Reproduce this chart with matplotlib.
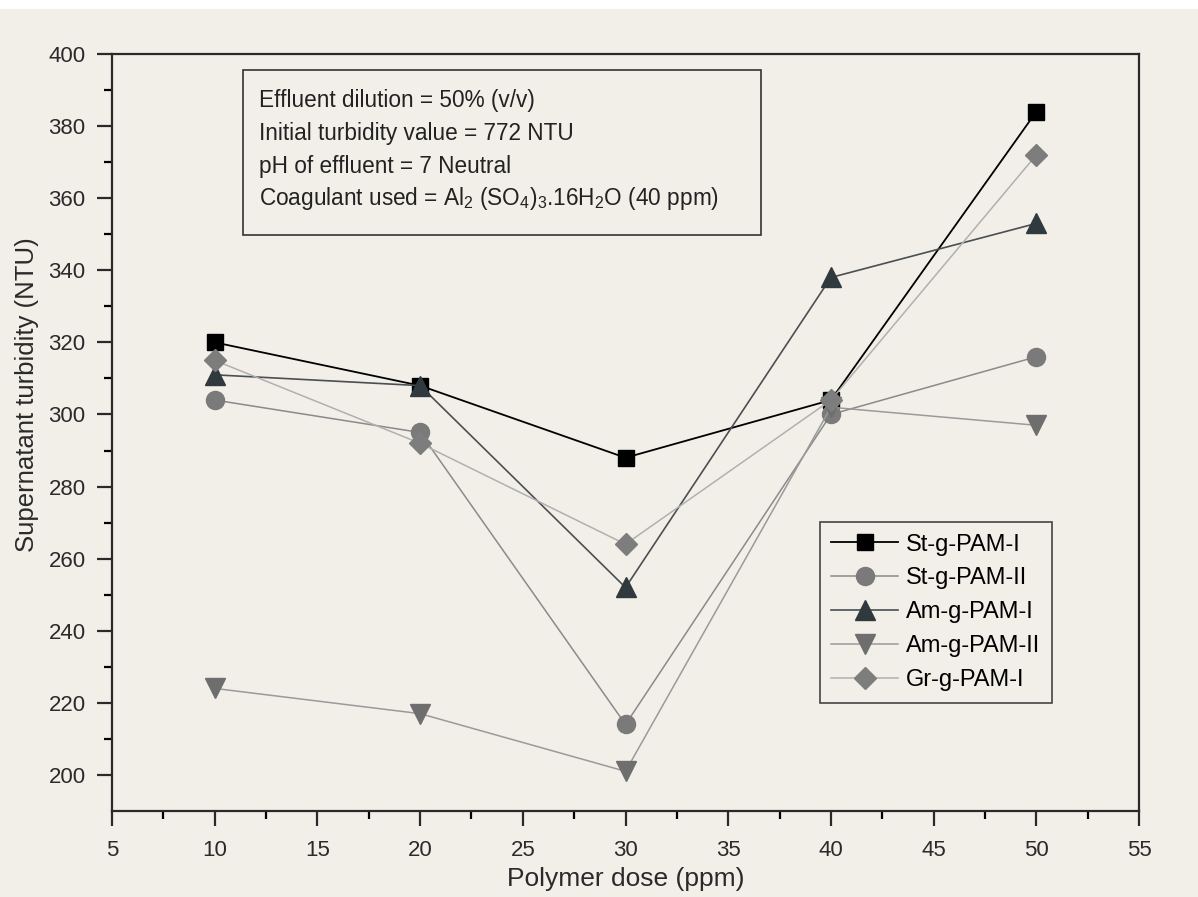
import matplotlib
matplotlib.use("Agg")
import matplotlib.pyplot as plt
from matplotlib.patches import Rectangle

plt.rcParams['font.family'] = ['Liberation Sans', 'DejaVu Sans']
plt.rcParams['mathtext.default'] = 'regular'

dose = [10, 20, 30, 40, 50]
series_names = ["St-g-PAM-I", "St-g-PAM-II", "Am-g-PAM-I", "Am-g-PAM-II", "Gr-g-PAM-I"]
st_pam_i = [320, 308, 288, 304, 384]
st_pam_ii = [304, 295, 214, 300, 316]
am_pam_i = [311, 308, 252, 338, 353]
am_pam_ii = [224, 217, 201, 302, 297]
gr_pam_i = [315, 292, 264, 304, 372]
xticks = [5, 10, 15, 20, 25, 30, 35, 40, 45, 50, 55]
yticks = [200, 220, 240, 260, 280, 300, 320, 340, 360, 380, 400]
info_lines = ["Effluent dilution = 50% (v/v)",
              "Initial turbidity value = 772 NTU",
              "pH of effluent = 7 Neutral",
              r"Coagulant used = Al$_2$ (SO$_4$)$_3$.16H$_2$O (40 ppm)"]

bg = "#f2efe9"
fig = plt.figure(figsize=(11.98, 8.97), dpi=100, facecolor=bg)
fig.patches.append(Rectangle((0, 1 - 9 / 897), 1, 9 / 897, transform=fig.transFigure,
                             facecolor='white', edgecolor='none', zorder=0))
ax = fig.add_axes([0.0935, 0.0959, 0.8573, 0.8439])
ax.set_facecolor(bg)

styles = [
    dict(marker='s', color='#000000', mfc='#000000', mec='#000000', lw=1.3, ms=12),
    dict(marker='o', color='#8a8a8a', mfc='#7a7a7a', mec='#7a7a7a', lw=1.1, ms=13),
    dict(marker='^', color='#4a4f52', mfc='#2f393e', mec='#2f393e', lw=1.2, ms=14),
    dict(marker='v', color='#9a9a9a', mfc='#6e6e6e', mec='#6e6e6e', lw=1.1, ms=14),
    dict(marker='D', color='#b0b0b0', mfc='#7d7d7d', mec='#7d7d7d', lw=1.1, ms=11),
]
data = [st_pam_i, st_pam_ii, am_pam_i, am_pam_ii, gr_pam_i]
for name, vals, st in zip(series_names, data, styles):
    ax.plot(dose, vals, label=name, **st)

ax.set_xlim(5, 55)
ax.set_ylim(190, 400)
ax.set_xticks(xticks)
ax.set_yticks(yticks)
ax.set_xticks([7.5 + 5 * i for i in range(10)], minor=True)
ax.set_yticks([210 + 20 * i for i in range(10)], minor=True)
ax.tick_params(which='major', direction='out', length=11, width=1.6, labelsize=16, colors='#2a2a2a')
ax.tick_params(which='minor', direction='out', length=6, width=1.6)
ax.tick_params(axis='y', which='major', pad=8)
ax.tick_params(axis='x', which='major', pad=10)
ax.tick_params(top=False, right=False, which='both')
for sp in ax.spines.values():
    sp.set_linewidth(1.6)
    sp.set_color('#2a2a2a')

ax.set_xlabel("Polymer dose (ppm)", fontsize=19, color='#2a2a2a', labelpad=4)
ax.set_ylabel("Supernatant turbidity (NTU)", fontsize=18.5, color='#2a2a2a')
ax.yaxis.set_label_coords(-0.071, 0.55)

rect = Rectangle((0.1276, 0.761), 0.504, 0.218, transform=ax.transAxes,
                 fill=False, edgecolor='#333333', lw=1.2)
ax.add_patch(rect)
for i, line in enumerate(info_lines):
    ax.text(0.1436, 0.939 - i * 0.0435, line, transform=ax.transAxes,
            fontsize=16.3, color='#222222', va='center', ha='left')

leg = ax.legend(loc='upper left', bbox_to_anchor=(0.689, 0.382), fontsize=17,
                frameon=True, fancybox=False, edgecolor='#444444', facecolor=bg,
                framealpha=1, handlelength=2.8, borderpad=0.5, labelspacing=0.5,
                handletextpad=0.35, borderaxespad=0)
leg.get_frame().set_linewidth(1.2)

fig.savefig("out.png", dpi=100, facecolor=bg)
